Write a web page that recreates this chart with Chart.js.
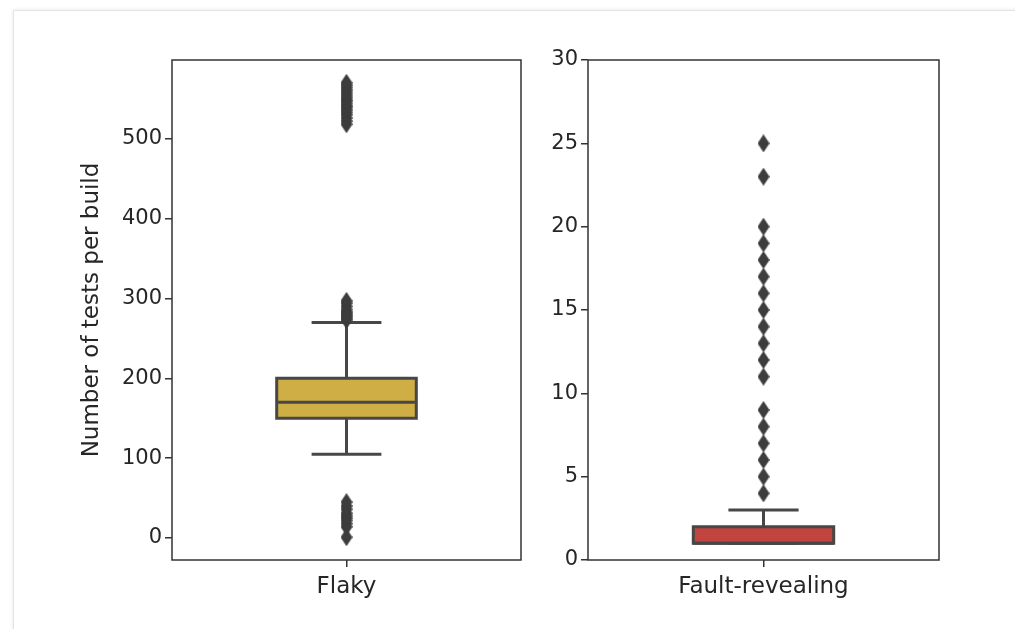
<!DOCTYPE html>
<html>
<head>
<meta charset="utf-8">
<script src="https://cdn.jsdelivr.net/npm/chart.js@4"></script>
<style>
  html, body { margin: 0; padding: 0; background: #fff; }
  body { width: 1015px; height: 629px; position: relative; overflow: hidden; font-family: "DejaVu Sans", sans-serif; }
  .card { position: absolute; left: 13px; top: 10px; width: 1100px; height: 700px; background: #fff;
          border: 1px solid #e4e4e4; box-shadow: 0 0 4px rgba(0,0,0,0.10); }
  .panel { position: absolute; top: 20px; }
</style>
</head>
<body>
<div class="card"></div>
<div class="panel" style="left:60px"><canvas id="flakyChart" width="480" height="600"></canvas></div>
<div class="panel" style="left:520px"><canvas id="faultChart" width="440" height="600"></canvas></div>
<script>
// Categories and box stats: [lower whisker, Q1, median, Q3, upper whisker]
const categories = ['Flaky', 'Fault-revealing'];
const flakyStats = [105, 150, 170, 200, 270];
const faultStats = [1, 1, 1, 2, 3];

// Outliers
const flakyOutliers = [1, 14, 18, 22, 25, 28, 31, 36, 40, 45,
    273, 275, 277, 279, 281, 283, 286, 290, 294, 297,
    518, 522, 526, 530, 533, 536, 539, 541, 544, 547, 549, 552, 555, 558, 561, 564, 567, 570];
const faultOutliers = [4, 5, 6, 7, 8, 9, 11, 12, 13, 14, 15, 16, 17, 18, 19, 20, 23, 25];

// Tick labels
const flakyTicks = [0, 100, 200, 300, 400, 500];
const faultTicks = [0, 5, 10, 15, 20, 25, 30];

const LINE = '#474747';
const TEXT = '#262626';
const TICK_FONT = { family: 'DejaVu Sans', size: 21 };
const LABEL_FONT = { family: 'DejaVu Sans', size: 23 };

/**
 * Thin diamond marker like matplotlib's 'd'
 */
function makeDiamond(w, h, color) {
    const c = document.createElement('canvas');
    c.width = w; c.height = h;
    const g = c.getContext('2d');
    g.fillStyle = color;
    g.beginPath();
    g.moveTo(w / 2, 0); g.lineTo(w, h / 2); g.lineTo(w / 2, h); g.lineTo(0, h / 2);
    g.closePath();
    g.fill();
    return c;
}
const diamond = makeDiamond(12, 18, '#3d3d3d');

/**
 * Build the line datasets of one box plot from its stats
 */
function boxDatasets(stats, fill) {
    const [lo, q1, med, q3, hi] = stats;
    const seg = (pts, extra) => Object.assign({
        type: 'scatter', data: pts, showLine: true, borderColor: LINE, borderWidth: 3,
        pointRadius: 0, fill: false, borderJoinStyle: 'miter', borderCapStyle: 'butt'
    }, extra || {});
    return [
        seg([{ x: -0.2, y: med }, { x: 0.2, y: med }]),
        seg([{ x: -0.2, y: q1 }, { x: 0.2, y: q1 }, { x: 0.2, y: q3 }, { x: -0.2, y: q3 }, { x: -0.2, y: q1 }, { x: 0.2, y: q1 }],
            { fill: 'shape', backgroundColor: fill }),
        seg([{ x: 0, y: lo }, { x: 0, y: q1 }]),
        seg([{ x: 0, y: q3 }, { x: 0, y: hi }]),
        seg([{ x: -0.1, y: lo }, { x: 0.1, y: lo }]),
        seg([{ x: -0.1, y: hi }, { x: 0.1, y: hi }])
    ];
}

// Axes frame drawn around the plot area
const framePlugin = {
    id: 'frame',
    afterDatasetsDraw(chart) {
        const { ctx, chartArea: a } = chart;
        ctx.save();
        ctx.strokeStyle = '#333';
        ctx.lineWidth = 1.5;
        ctx.strokeRect(a.left, a.top, a.right - a.left, a.bottom - a.top);
        ctx.restore();
    }
};

function makeChart(id, label, stats, outliers, fill, yMin, yMax, yTicks, yWidth, padRight, yTitle) {
    const ctx = document.getElementById(id).getContext('2d');
    const datasets = [{
        type: 'scatter',
        data: outliers.map(v => ({ x: 0, y: v })),
        pointStyle: diamond,
        pointRadius: 9
    }].concat(boxDatasets(stats, fill));

    return new Chart(ctx, {
        type: 'scatter',
        data: { datasets },
        options: {
            responsive: false,
            animation: false,
            layout: { padding: { top: 40, right: padRight, left: 0, bottom: 0 } },
            plugins: { legend: { display: false }, tooltip: { enabled: false } },
            scales: {
                x: {
                    type: 'linear', min: -0.5, max: 0.5,
                    afterBuildTicks: s => { s.ticks = [{ value: 0 }]; },
                    afterFit: s => { s.height = 60; },
                    ticks: { callback: () => label, color: TEXT, font: LABEL_FONT, padding: 6, maxRotation: 0 },
                    grid: { drawOnChartArea: false, drawTicks: true, tickLength: 7, color: '#333', lineWidth: 1.5 },
                    border: { display: false }
                },
                y: {
                    type: 'linear', min: yMin, max: yMax,
                    afterBuildTicks: s => { s.ticks = yTicks.map(v => ({ value: v })); },
                    afterFit: s => { s.width = yWidth; },
                    ticks: { color: TEXT, font: TICK_FONT, padding: 3 },
                    grid: { drawOnChartArea: false, drawTicks: true, tickLength: 7, color: '#333', lineWidth: 1.5 },
                    border: { display: false },
                    title: {
                        display: !!yTitle, text: yTitle || '', color: TEXT, font: LABEL_FONT,
                        padding: { top: 18, bottom: 0 }
                    }
                }
            }
        },
        plugins: [framePlugin]
    });
}

makeChart('flakyChart', categories[0], flakyStats, flakyOutliers, '#cfae45', -27.5, 598.5, flakyTicks, 112, 19, 'Number of tests per build');
makeChart('faultChart', categories[1], faultStats, faultOutliers, '#c1443f', 0, 30, faultTicks, 68, 21, '');
</script>
</body>
</html>
